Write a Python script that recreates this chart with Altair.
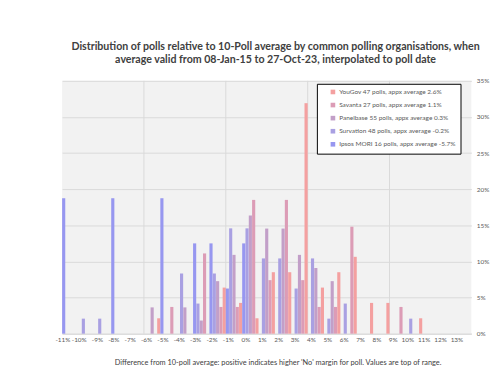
import altair as alt
import pandas as pd

categories = ["-11%", "-10%", "-9%", "-8%", "-7%", "-6%", "-5%", "-4%", "-3%", "-2%", "-1%",
              "0%", "1%", "2%", "3%", "4%", "5%", "6%", "7%", "8%", "9%", "10%", "11%", "12%", "13%"]

orgs = ["YouGov", "Savanta", "Panelbase", "Survation", "Ipsos MORI"]
poll_counts = [47, 27, 55, 48, 16]
appx_avg = ["2.6%", "1.1%", "0.3%", "-0.2%", "-5.7%"]

# share of each organisation's polls (%) per bin, -11% .. 13%
yougov = [0, 0, 0, 0, 0, 2.13, 0, 0, 0, 6.38, 4.26, 2.13, 8.51, 8.51, 31.91, 6.38, 8.51, 10.64, 4.26, 4.26, 0, 2.13, 0, 0, 0]
savanta = [0, 0, 0, 0, 0, 0, 3.70, 0, 11.11, 3.70, 3.70, 18.52, 7.41, 18.52, 7.41, 3.70, 3.70, 14.81, 0, 0, 3.70, 0, 0, 0, 0]
panelbase = [0, 0, 0, 0, 0, 3.64, 0, 3.64, 1.82, 7.27, 10.91, 16.36, 14.55, 14.55, 10.91, 9.09, 7.27, 0, 0, 0, 0, 0, 0, 0, 0]
survation = [0, 2.08, 2.08, 0, 0, 0, 0, 8.33, 4.17, 8.33, 14.58, 14.58, 10.42, 10.42, 6.25, 10.42, 2.08, 4.17, 0, 0, 0, 2.08, 0, 0, 0]
ipsos = [18.75, 0, 0, 18.75, 0, 0, 18.75, 0, 12.5, 12.5, 6.25, 12.5, 0, 0, 0, 0, 0, 0, 0, 0, 0, 0, 0, 0, 0]

colors = ["#F4A0A0", "#DC9CB6", "#C29FC8", "#A9A0E2", "#9797F0"]
grid_cats = ["-6%", "-1%", "4%", "9%"]

labels = [f"{o} {n} polls, appx average {a}" for o, n, a in zip(orgs, poll_counts, appx_avg)]
rows = []
for lab, vals in zip(labels, [yougov, savanta, panelbase, survation, ipsos]):
    for c, v in zip(categories, vals):
        if v > 0:
            rows.append({"bin": c, "series": lab, "share": v})
df = pd.DataFrame(rows)
grid_df = pd.DataFrame({"bin": grid_cats})

FONT = "Lato"
xscale = alt.Scale(domain=categories, paddingInner=0, paddingOuter=0)

bars = alt.Chart(df).mark_bar().encode(
    x=alt.X("bin:N", scale=xscale,
            axis=alt.Axis(title="Difference from 10-poll average: positive indicates higher 'No' margin for poll. Values are top of range.",
                          labelAngle=0, labelFontSize=6.5, labelColor="#595959", labelFont=FONT,
                          ticks=False, domain=True, domainColor="#d9d9d9", labelPadding=6,
                          titleFontSize=7.5, titleFont=FONT, titleColor="#404040", titleFontWeight="normal",
                          titlePadding=16, titleX=219)),
    xOffset=alt.XOffset("series:N", sort=labels[::-1],
                        scale=alt.Scale(paddingInner=0.05, paddingOuter=0)),
    y=alt.Y("share:Q", scale=alt.Scale(domain=[0, 35]),
            axis=alt.Axis(title=None, orient="right", values=[0, 5, 10, 15, 20, 25, 30, 35],
                          labelExpr="datum.value + '%'", labelFontSize=6.5, labelColor="#595959",
                          labelFont=FONT, ticks=False, domain=False, gridColor="#d9d9d9", labelPadding=5)),
    color=alt.Color("series:N", scale=alt.Scale(domain=labels, range=colors), title=None,
                    legend=alt.Legend(orient="none", legendX=259, legendY=3, strokeColor="black",
                                      fillColor="white", padding=5, symbolType="square", symbolSize=22,
                                      symbolOffset=8, labelOffset=3,
                                      labelFontSize=6.6, labelColor="#595959", labelFont=FONT,
                                      rowPadding=6.3, symbolStrokeWidth=0)),
)

vgrid = alt.Chart(grid_df).mark_rule(color="#d9d9d9", strokeWidth=1).encode(
    x=alt.X("bin:N", scale=xscale, bandPosition=0)
)

chart = alt.layer(vgrid, bars).properties(
    width=416, height=257,
    autosize=alt.AutoSizeParams(type="none"),
    padding={"left": 55, "top": 71, "right": 21, "bottom": 42},
    title=alt.Title(["Distribution of polls relative to 10-Poll average by common polling organisations, when",
                     "average valid from 08-Jan-15 to 27-Oct-23, interpolated to poll date"],
                    font=FONT, fontSize=10.8, fontWeight="bold", color="#404040",
                    lineHeight=14, offset=13, dx=9, anchor="middle"),
    background="white",
).configure_view(fill="#F2F2F2", strokeWidth=0)

chart.save("out.html", embed_options={"renderer": "svg", "actions": False})
